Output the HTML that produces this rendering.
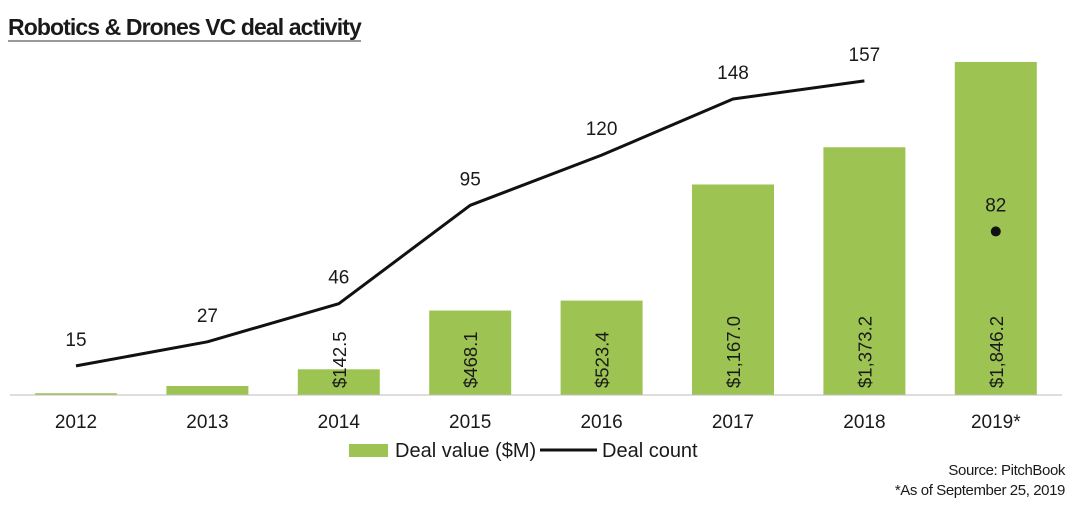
<!DOCTYPE html>
<html><head><meta charset="utf-8"><style>
body{margin:0;background:#fff;width:1080px;height:507px;overflow:hidden;font-family:"Liberation Sans",sans-serif}
#title{position:absolute;left:8px;top:15px;font-size:23px;font-weight:bold;letter-spacing:-0.9px;color:#1a1a1a;border-bottom:2px solid #999;line-height:25px;white-space:nowrap}
</style></head><body>
<div id="title">Robotics &amp; Drones VC deal activity</div>
<svg id="chart" width="1080" height="507" style="position:absolute;left:0;top:0"></svg>
<script>
const years=["2012","2013","2014","2015","2016","2017","2018","2019*"];
const dealValue=[10,50,142.5,468.1,523.4,1167.0,1373.2,1846.2];
const valueLabels=["","","$142.5","$468.1","$523.4","$1,167.0","$1,373.2","$1,846.2"];
const dealCount=[15,27,46,95,120,148,157];
const partialCount=[82];
const svg=document.getElementById('chart');
const NS='http://www.w3.org/2000/svg';
const base=395;
const x=i=>76+i*131.4;
const yv=v=>base-v*0.1804;
const yc=v=>396-v*2.007;
function mk(t,a,txt){const e=document.createElementNS(NS,t);for(const k in a)e.setAttribute(k,a[k]);if(txt!==undefined)e.textContent=txt;svg.appendChild(e);return e;}
dealValue.forEach((v,i)=>{
 const r=mk('rect',{x:x(i)-41,y:yv(v),width:82,height:base-yv(v),fill:'#9dc453'});
 
 
 if(valueLabels[i]){
  const t=mk('text',{x:0,y:0,'font-size':18.5,fill:'#1a1a1a','text-anchor':'start',transform:`translate(${x(i)+7},388) rotate(-90)`},valueLabels[i]);
  
  
 }
 const yl=mk('text',{x:x(i),y:428,'font-size':19,fill:'#1a1a1a','text-anchor':'middle'},years[i]);
 
 
});
const ax=mk('line',{x1:10,x2:1062,y1:base,y2:base,stroke:'#bbb','stroke-width':1});


const pts=dealCount.map((c,i)=>x(i)+','+yc(c)).join(' ');
const pl=mk('polyline',{points:pts,fill:'none',stroke:'#111','stroke-width':3,'stroke-linejoin':'round'});


dealCount.forEach((c,i)=>{
 const t=mk('text',{x:x(i),y:yc(c)-20,'font-size':19,fill:'#1a1a1a','text-anchor':'middle'},String(c));
 
 
});
partialCount.forEach((c,j)=>{
 const i=7+j;
 const d=mk('circle',{cx:x(i),cy:yc(c),r:5,fill:'#111'});
 
 
 const t=mk('text',{x:x(i),y:yc(c)-20,'font-size':19,fill:'#1a1a1a','text-anchor':'middle'},String(c));
 
 
});
const lg1=mk('rect',{x:349,y:444,width:39,height:13,fill:'#9dc453'});


const lt1=mk('text',{x:395,y:457,'font-size':20,fill:'#1a1a1a'},'Deal value ($M)');


const lg2=mk('line',{x1:540,x2:597,y1:450,y2:450,stroke:'#111','stroke-width':3});


const lt2=mk('text',{x:602,y:457,'font-size':20,fill:'#1a1a1a'},'Deal count');


const s1=mk('text',{x:1065,y:475,'font-size':15,fill:'#1a1a1a','text-anchor':'end','letter-spacing':'-0.4'},'Source: PitchBook');


const s2=mk('text',{x:1065,y:495,'font-size':15,fill:'#1a1a1a','text-anchor':'end','letter-spacing':'-0.4'},'*As of September 25, 2019');


</script>
</body></html>
